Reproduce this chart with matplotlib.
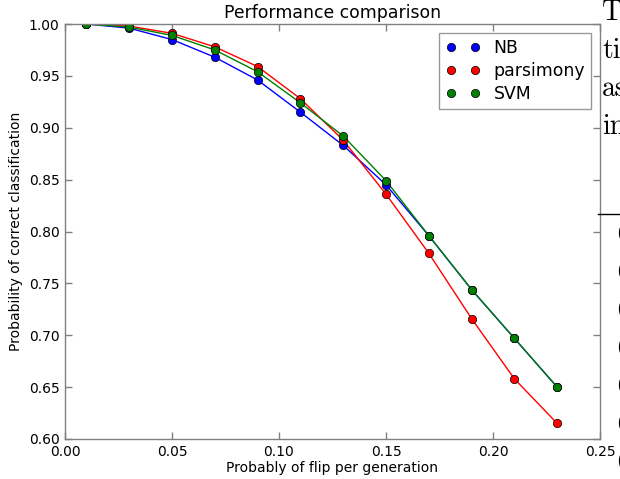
import matplotlib
matplotlib.use('Agg')
import matplotlib.pyplot as plt
from matplotlib.lines import Line2D

# flip probability per generation
flip_prob = [0.01, 0.03, 0.05, 0.07, 0.09, 0.11, 0.13, 0.15, 0.17, 0.19, 0.21, 0.23]

nb_acc = [1.000, 0.996, 0.985, 0.968, 0.946, 0.915, 0.883, 0.845, 0.796, 0.744, 0.697, 0.650]
parsimony_acc = [1.000, 0.998, 0.991, 0.978, 0.959, 0.928, 0.888, 0.836, 0.779, 0.716, 0.658, 0.615]
svm_acc = [1.000, 0.997, 0.989, 0.975, 0.954, 0.924, 0.892, 0.849, 0.796, 0.744, 0.697, 0.650]

series = [('NB', nb_acc, 'b'), ('parsimony', parsimony_acc, 'r'), ('SVM', svm_acc, 'g')]

x_ticks = [0.00, 0.05, 0.10, 0.15, 0.20, 0.25]
y_ticks = [0.60, 0.65, 0.70, 0.75, 0.80, 0.85, 0.90, 0.95, 1.00]

# leftover text from the page the figure was cut out of
side_words = ['T', 'ti', 'as', 'in']
side_baselines = [20, 58, 96, 134]
paren_baselines = [238, 276, 314, 352, 390, 428, 466]

W, H = 620, 479
fig = plt.figure(figsize=(W / 100.0, H / 100.0), dpi=100, facecolor='white')
ax = fig.add_axes([65.0 / W, 40.0 / H, 535.0 / W, 415.0 / H])

for name, acc, col in series:
    ax.plot(flip_prob, acc, '-', color=col, linewidth=1.0)
for name, acc, col in series:
    ax.plot(flip_prob, acc, 'o', color=col, markersize=6,
            markeredgecolor='black', markeredgewidth=0.5, label=name)

ax.set_xlim(0.0, 0.25)
ax.set_ylim(0.60, 1.00)
ax.set_xticks(x_ticks)
ax.set_yticks(y_ticks)
ax.set_xticklabels(['%.2f' % v for v in x_ticks])
ax.set_yticklabels(['%.2f' % v for v in y_ticks])
ax.tick_params(direction='in', length=5, width=1, color='0.5',
               top=True, right=True, labelsize=10, pad=4)
for sp in ax.spines.values():
    sp.set_color('0.5')
    sp.set_linewidth(1.0)

ax.set_title('Performance comparison', fontsize=12.4, pad=4)
ax.set_xlabel('Probably of flip per generation', fontsize=10, labelpad=1.5)
ax.set_ylabel('Probability of correct classification', fontsize=10, labelpad=4)

leg = ax.legend(loc='upper right', numpoints=2, fontsize=12.4, fancybox=False,
                handlelength=2, handletextpad=0.8, borderaxespad=0.5,
                labelspacing=0.3, borderpad=0.35)
leg.get_frame().set_edgecolor('0.5')
leg.get_frame().set_linewidth(1.0)

for word, b in zip(side_words, side_baselines):
    fig.text(602.0 / W, 1 - b / float(H), word, family='cmr10', fontsize=20,
             va='baseline', ha='left')
for b in paren_baselines:
    fig.text(616.0 / W, 1 - b / float(H), '(', family='cmr10', fontsize=14,
             va='baseline', ha='left')
fig.add_artist(Line2D([598.0 / W, 1.0], [1 - 214.0 / H, 1 - 214.0 / H],
                      color='black', linewidth=1.0))

fig.savefig('out.png', dpi=100, facecolor='white')
